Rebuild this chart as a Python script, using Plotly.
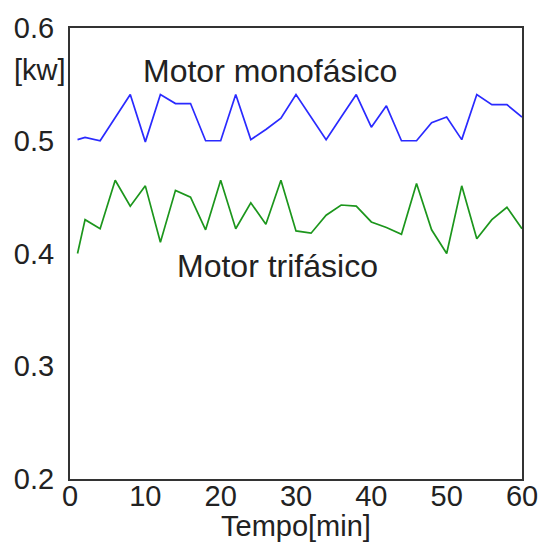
import plotly.graph_objects as go

tempo = [1, 2, 4, 6, 8, 10, 12, 14, 16, 18, 20, 22, 24, 26, 28, 30,
         32, 34, 36, 38, 40, 42, 44, 46, 48, 50, 52, 54, 56, 58, 60]
mono = [0.501, 0.503, 0.500, 0.521, 0.541, 0.499, 0.541, 0.533, 0.533, 0.500,
        0.500, 0.541, 0.501, 0.510, 0.520, 0.541, 0.521, 0.501, 0.521, 0.541,
        0.512, 0.531, 0.500, 0.500, 0.516, 0.521, 0.501, 0.541, 0.532, 0.532, 0.521]
tri = [0.400, 0.430, 0.422, 0.465, 0.442, 0.460, 0.410, 0.456, 0.450, 0.421,
       0.465, 0.422, 0.445, 0.426, 0.465, 0.420, 0.418, 0.434, 0.443, 0.442,
       0.428, 0.423, 0.417, 0.462, 0.421, 0.400, 0.460, 0.413, 0.430, 0.441, 0.422]
x_ticks = [0, 10, 20, 30, 40, 50, 60]
y_ticks = [0.2, 0.3, 0.4, 0.5, 0.6]

FONT = "Liberation Sans, Arial, sans-serif"
TXT = "#222"

L, R, T, B = 70, 19, 28, 65
W, H = 541, 544
pw = W - L - R
ph = H - T - B


def px2paper(px, py):
    return (px - L) / pw, 1 - (py - T) / ph


fig = go.Figure()
fig.add_trace(go.Scatter(x=tempo, y=mono, mode="lines", name="Motor monofásico",
                         line=dict(color="#2a2aff", width=1.7)))
fig.add_trace(go.Scatter(x=tempo, y=tri, mode="lines", name="Motor trifásico",
                         line=dict(color="#1c961c", width=1.7)))

anns = []
for text, cx, cy, size in [("Motor monofásico", 270, 71, 32),
                           ("Motor trifásico", 277, 266, 32),
                           ("[kw]", 40, 70, 29),
                           ("Tempo[min]", 296, 526, 29)]:
    ax, ay = px2paper(cx, cy)
    anns.append(dict(text=text, x=ax, y=ay, xref="paper", yref="paper",
                     xanchor="center", yanchor="middle", showarrow=False,
                     font=dict(size=size, family=FONT, color=TXT)))

fig.update_layout(
    width=W, height=H,
    margin=dict(l=L, r=R, t=T, b=B),
    paper_bgcolor="white", plot_bgcolor="white",
    showlegend=False,
    font=dict(family=FONT, size=29, color=TXT),
    xaxis=dict(range=[0, 60], tickvals=x_ticks, ticktext=[str(v) for v in x_ticks],
               showgrid=False, zeroline=False, showline=True, mirror=True,
               linecolor="#333", linewidth=2, ticks="", automargin=False,
               tickfont=dict(size=29, family=FONT, color=TXT),
               ticklabelstandoff=-10),
    yaxis=dict(range=[0.2, 0.6], tickvals=y_ticks, ticktext=["0.2", "0.3", "0.4", "0.5", "0.6"],
               showgrid=False, zeroline=False, showline=True, mirror=True,
               linecolor="#333", linewidth=2, ticks="", automargin=False,
               tickfont=dict(size=29, family=FONT, color=TXT),
               ticklabelstandoff=8),
    annotations=anns,
)

fig.write_html("out.html", config={"displayModeBar": False},
               post_script="document.body.style.margin='0';")
